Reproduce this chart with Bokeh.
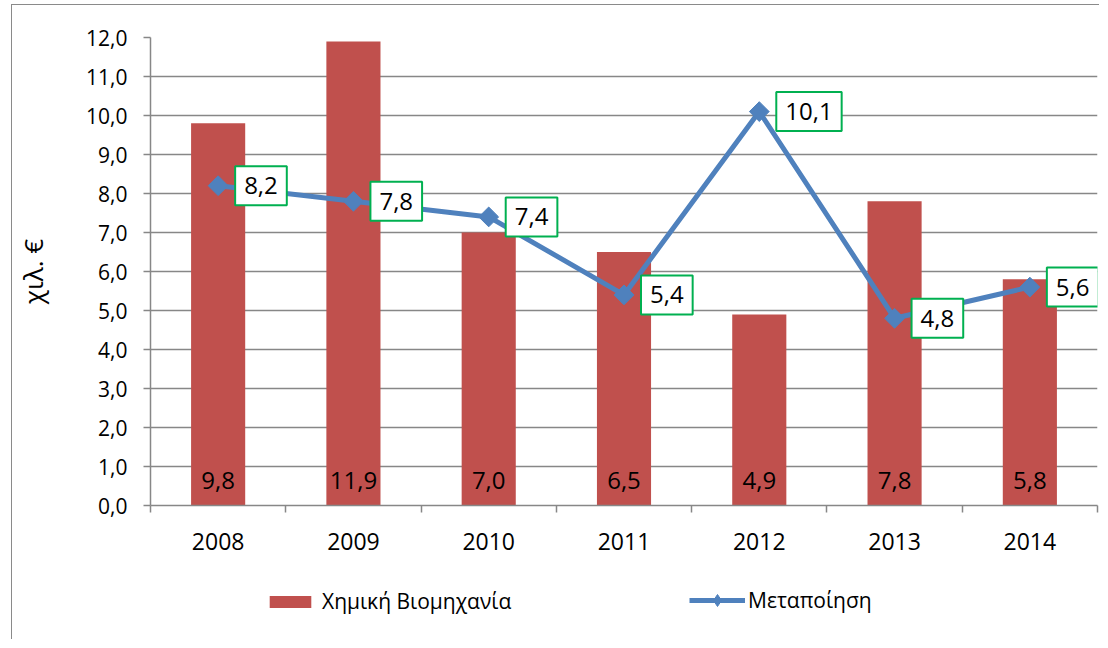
from bokeh.plotting import figure
from bokeh.layouts import column
from bokeh.models import Range1d, FixedTicker, ColumnDataSource, Legend, LegendItem
from bokeh.core.properties import value
from bokeh.embed import file_html
from bokeh.resources import INLINE

years = ["2008", "2009", "2010", "2011", "2012", "2013", "2014"]
chem = [9.8, 11.9, 7.0, 6.5, 4.9, 7.8, 5.8]
manuf = [8.2, 7.8, 7.4, 5.4, 10.1, 4.8, 5.6]
y_ticks = list(range(0, 13))
bar_name = "Χημική Βιομηχανία"
line_name = "Μεταποίηση"
y_title = "χιλ. €"

FONT = "Open Sans"
RED = "#C0504D"
BLUE = "#4F81BD"
GRID = "#878787"
NAN = float("nan")


def fmt(v):
    return f"{v:.1f}".replace(".", ",")


xs = [i + 0.5 for i in range(len(years))]
src = ColumnDataSource(dict(x=xs, chem=chem, manuf=manuf,
                            chem_lbl=[fmt(v) for v in chem],
                            manuf_lbl=[fmt(v) for v in manuf],
                            zero=[0] * len(years)))

p = figure(width=1087, height=570, output_backend="svg", toolbar_location=None,
           x_range=Range1d(0, len(years)), y_range=Range1d(0, 12),
           min_border_left=138, min_border_right=2, min_border_top=32,
           min_border_bottom=70)
p.outline_line_color = None
p.background_fill_color = "white"
p.border_fill_color = "white"

# grid
p.xgrid.visible = False
p.ygrid.ticker = FixedTicker(ticks=y_ticks)
p.ygrid.grid_line_color = GRID
p.ygrid.grid_line_width = 1.5

# y axis
p.yaxis.ticker = FixedTicker(ticks=y_ticks)
p.yaxis.major_label_overrides = {t: fmt(t) for t in y_ticks}
p.yaxis.axis_line_color = GRID
p.yaxis.axis_line_width = 1.5
p.yaxis.major_tick_line_color = GRID
p.yaxis.major_tick_line_width = 1.5
p.yaxis.major_tick_out = 7
p.yaxis.major_tick_in = 0
p.yaxis.minor_tick_line_color = None
p.yaxis.major_label_text_font = FONT
p.yaxis.major_label_text_font_size = "21px"
p.yaxis.major_label_text_color = "black"
p.yaxis.major_label_standoff = 16
p.yaxis.axis_label = y_title
p.yaxis.axis_label_text_font = FONT
p.yaxis.axis_label_text_font_size = "26px"
p.yaxis.axis_label_text_font_style = "normal"
p.yaxis.axis_label_text_color = "black"
p.yaxis.axis_label_standoff = 32

# x axis
p.xaxis.ticker = FixedTicker(ticks=xs, minor_ticks=list(range(len(years) + 1)))
p.xaxis.major_label_overrides = {x: y for x, y in zip(xs, years)}
p.xaxis.axis_line_color = GRID
p.xaxis.axis_line_width = 1.5
p.xaxis.major_tick_line_color = None
p.xaxis.major_tick_out = 0
p.xaxis.major_tick_in = 0
p.xaxis.minor_tick_line_color = GRID
p.xaxis.minor_tick_line_width = 1.5
p.xaxis.minor_tick_out = 7
p.xaxis.minor_tick_in = 0
p.xaxis.major_label_text_font = FONT
p.xaxis.major_label_text_font_size = "23px"
p.xaxis.major_label_text_color = "black"
p.xaxis.major_label_standoff = 20

p.vbar(x="x", top="chem", width=0.4, source=src, fill_color=RED, line_color=None)
p.line(x="x", y="manuf", source=src, line_color=BLUE, line_width=5)
p.scatter(x="x", y="manuf", source=src, marker="square", angle=0.785398,
          size=14, fill_color=BLUE, line_color=BLUE)

# bar value labels
p.text(x="x", y="zero", text="chem_lbl", source=src, text_font=value(FONT),
       text_font_size="24px", text_align="center", text_baseline="middle",
       y_offset=-25, text_color="black")

# line value labels in boxes
p.text(x="x", y="manuf", text="manuf_lbl", source=src, text_font=value(FONT),
       text_font_size="24px", text_align="left", text_baseline="middle",
       x_offset=17, text_color="black", background_fill_color="white",
       border_line_color="#00B050", border_line_width=2,
       padding=dict(left=9, right=9, top=11, bottom=11))

# legend strip (legend keys only, no visible data)
lf = figure(width=1087, height=64, output_backend="svg", toolbar_location=None,
            x_range=Range1d(0, 1), y_range=Range1d(0, 1),
            x_axis_type=None, y_axis_type=None, min_border=0)
lf.outline_line_color = None
lf.grid.visible = False
lf.border_fill_color = "white"
lb = lf.vbar(x=[NAN], top=[NAN], width=0.4, fill_color=RED, line_color=None)
ll = lf.line(x=[NAN], y=[NAN], line_color=BLUE, line_width=5)
lm = lf.scatter(x=[NAN], y=[NAN], marker="diamond", size=11,
                fill_color=BLUE, line_color=BLUE)

common = dict(orientation="horizontal", padding=0, margin=0,
              border_line_color=None, background_fill_alpha=0,
              label_text_font=FONT, label_text_font_size="21px",
              label_text_color="black")
leg1 = Legend(items=[LegendItem(label=bar_name, renderers=[lb])],
              location=(114, 24), glyph_width=52, glyph_height=15,
              label_standoff=6, **common)
leg2 = Legend(items=[LegendItem(label=line_name, renderers=[ll, lm])],
              location=(539, 24), glyph_width=56, glyph_height=30,
              label_standoff=3, **common)
lf.add_layout(leg1, "center")
lf.add_layout(leg2, "center")

layout = column(p, lf, spacing=0,
                styles={"border-left": "1.5px solid #8A8A8A",
                        "border-top": "1.5px solid #8A8A8A",
                        "margin-left": "11px", "margin-top": "4px"})

open("out.html", "w").write(file_html(layout, INLINE))
